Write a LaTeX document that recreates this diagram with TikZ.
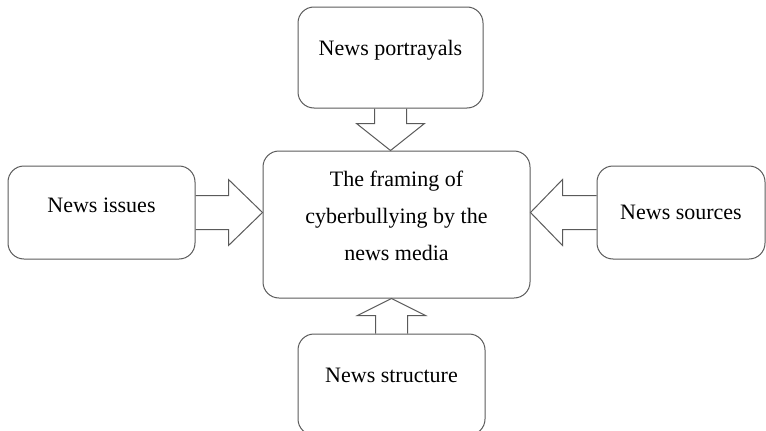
\documentclass[tikz,border=0pt]{standalone}
\usepackage{fontspec}
\setmainfont{Liberation Serif}
\usepackage{tikz}
\usetikzlibrary{calc}
\definecolor{boxgray}{RGB}{90,90,90}

\begin{document}
\begin{tikzpicture}[x=1pt, y=-1pt,
    box/.style={draw=boxgray, line width=1pt, rounded corners=16pt, inner sep=0pt,
        font=\fontsize{22}{37}\selectfont},
    fat/.style={draw=boxgray, line width=1pt, line join=miter}]
    \useasboundingbox (0,0) rectangle (766,431);
    \clip (0,0) rectangle (766,431);

    % Central box
    \node[box, minimum width=267pt, minimum height=147pt, align=center, text depth=18pt] (frame) at (396.5,224.5)
        {The framing of\\cyberbullying by the\\news media};

    % Outer boxes
    \node[box, minimum width=185pt, minimum height=101pt, text depth=20pt] (portray) at (390.5,57.5) {News portrayals};
    \node[box, minimum width=187pt, minimum height=93pt, text depth=14pt] (issues) at (101.5,212.5) {News issues};
    \node[box, minimum width=168pt, minimum height=93pt] (sources) at (681,212.5) {News sources};
    \node[box, minimum width=187pt, minimum height=101pt, text depth=18pt] (structure) at (391.5,384.5) {News structure};

    % Block arrows
    \draw[fat] ($(portray.south)+(-16,0)$) -- ++(0,15) -- ++(-18,0) -- (portray.south |- frame.north)
        -- ($(portray.south)+(34,15)$) -- ++(-18,0) -- ++(0,-15);
    \draw[fat] ($(issues.east)+(0,-17)$) -- ++(33,0) -- ++(0,-16) -- (issues.east -| frame.west)
        -- ($(issues.east)+(33,33)$) -- ++(0,-16) -- ++(-33,0);
    \draw[fat] ($(sources.west)+(0,-17)$) -- ++(-34,0) -- ++(0,-16) -- (sources.west -| frame.east)
        -- ($(sources.west)+(-34,33)$) -- ++(0,-16) -- ++(34,0);
    \draw[fat] ($(structure.north)+(-16,0)$) -- ++(0,-18) -- ++(-18,0) -- (structure.north |- frame.south)
        -- ($(structure.north)+(34,-18)$) -- ++(-18,0) -- ++(0,18);
\end{tikzpicture}
\end{document}
